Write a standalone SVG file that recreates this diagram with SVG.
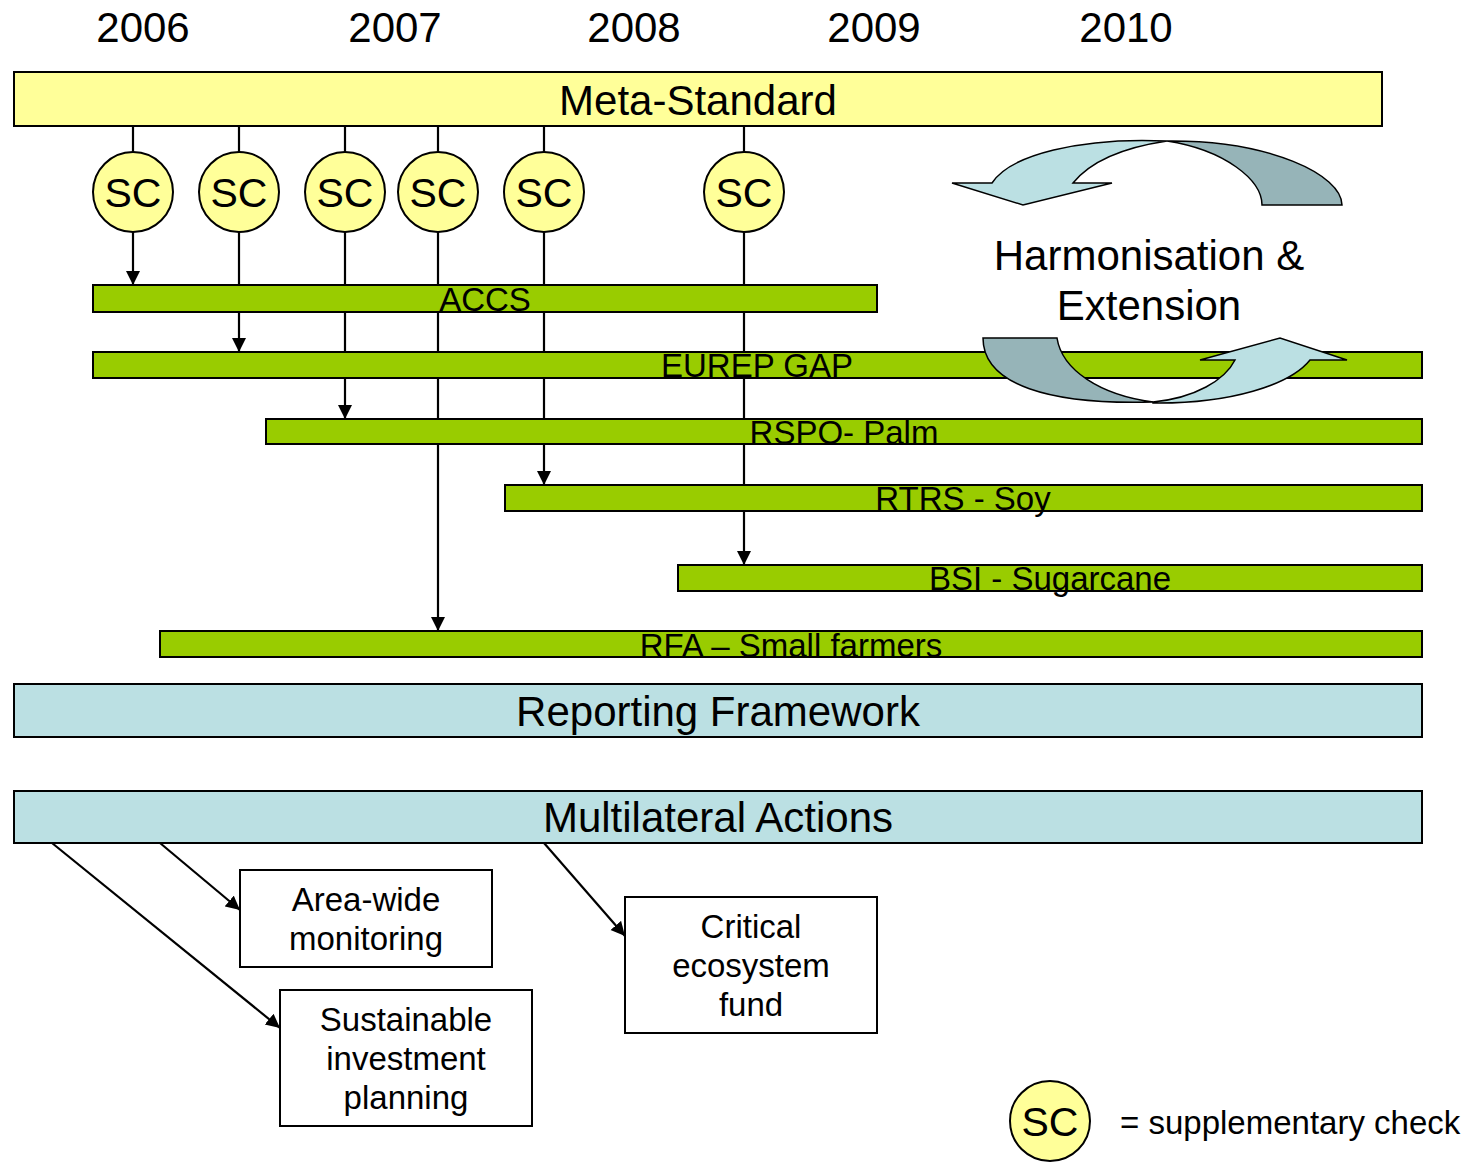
<svg xmlns="http://www.w3.org/2000/svg" width="1466" height="1163" viewBox="0 0 1466 1163">
<style>
.t{font-family:"Liberation Sans",Arial,sans-serif;fill:#000;text-anchor:middle}
.f42{font-size:42px}
.sc{font-size:41px}
.f32{font-size:33px}
.bar{fill:#99CC00;stroke:#000;stroke-width:2}
.blue{fill:#BBE0E3;stroke:#000;stroke-width:2}
.yel{fill:#FFFF99;stroke:#000;stroke-width:2}
.box{fill:#fff;stroke:#000;stroke-width:2}
.conn{stroke:#000;stroke-width:2.2;fill:none}
.light{fill:#BBE0E3;stroke:#000;stroke-width:1.5}
.dark{fill:#96B4B8;stroke:#000;stroke-width:1.5}
</style>
<defs>
<marker id="ah" markerUnits="userSpaceOnUse" markerWidth="15" markerHeight="15" refX="14" refY="7" orient="auto">
<path d="M0,0 L14,7 L0,14 Z" fill="#000"/>
</marker>
</defs>
<rect width="1466" height="1163" fill="#fff"/>

<g id="connectors" class="conn">
<line x1="133" y1="126" x2="133" y2="285" marker-end="url(#ah)"/>
<line x1="239" y1="126" x2="239" y2="352" marker-end="url(#ah)"/>
<line x1="345" y1="126" x2="345" y2="419" marker-end="url(#ah)"/>
<line x1="438" y1="126" x2="438" y2="631" marker-end="url(#ah)"/>
<line x1="544" y1="126" x2="544" y2="485" marker-end="url(#ah)"/>
<line x1="744" y1="126" x2="744" y2="565" marker-end="url(#ah)"/>
<line x1="52" y1="843" x2="280" y2="1028" marker-end="url(#ah)"/>
<line x1="160" y1="843" x2="240" y2="910" marker-end="url(#ah)"/>
<line x1="544" y1="843" x2="625" y2="936" marker-end="url(#ah)"/>
</g>

<g id="years" class="t f42">
<text x="143" y="42">2006</text>
<text x="395" y="42">2007</text>
<text x="634" y="42">2008</text>
<text x="874" y="42">2009</text>
<text x="1126" y="42">2010</text>
</g>

<g id="meta-standard">
<rect class="yel" x="14" y="72" width="1368" height="54"/>
<text class="t f42" x="698" y="115">Meta-Standard</text>
</g>

<g id="accs">
<rect class="bar" x="93" y="285" width="784" height="27"/>
<text class="t f32" x="485" y="311">ACCS</text>
</g>
<g id="eurep">
<rect class="bar" x="93" y="352" width="1329" height="26"/>
<text class="t f32" x="757" y="377">EUREP GAP</text>
</g>
<g id="rspo">
<rect class="bar" x="266" y="419" width="1156" height="25"/>
<text class="t f32" x="844" y="444">RSPO- Palm</text>
</g>
<g id="rtrs">
<rect class="bar" x="505" y="485" width="917" height="26"/>
<text class="t f32" x="963" y="510">RTRS - Soy</text>
</g>
<g id="bsi">
<rect class="bar" x="678" y="565" width="744" height="26"/>
<text class="t f32" x="1050" y="590">BSI - Sugarcane</text>
</g>
<g id="rfa">
<rect class="bar" x="160" y="631" width="1262" height="26"/>
<text class="t f32" x="791" y="657">RFA – Small farmers</text>
</g>

<g id="sc1"><circle class="yel" cx="133" cy="192" r="40"/><text class="t sc" x="133" y="207">SC</text></g>
<g id="sc2"><circle class="yel" cx="239" cy="192" r="40"/><text class="t sc" x="239" y="207">SC</text></g>
<g id="sc3"><circle class="yel" cx="345" cy="192" r="40"/><text class="t sc" x="345" y="207">SC</text></g>
<g id="sc4"><circle class="yel" cx="438" cy="192" r="40"/><text class="t sc" x="438" y="207">SC</text></g>
<g id="sc5"><circle class="yel" cx="544" cy="192" r="40"/><text class="t sc" x="544" y="207">SC</text></g>
<g id="sc6"><circle class="yel" cx="744" cy="192" r="40"/><text class="t sc" x="744" y="207">SC</text></g>

<g id="harmonisation">
<path class="dark" d="M1167,141 C1270,140 1342,175 1342,205 L1262,205 C1262,180 1225,150 1167,141 Z"/>
<path class="light" d="M1167,141 C1080,137 1010,155 992,183 L952,183 L1023,205 L1112,183 L1073,183 C1090,162 1120,148 1167,141 Z"/>
<text class="t f42" x="1149" y="270">Harmonisation &amp;</text>
<text class="t f42" x="1149" y="320">Extension</text>
<path class="dark" d="M983,338 L1057,338 C1062,370 1100,395 1153,402 C1050,405 983,385 983,338 Z"/>
<path class="light" d="M1153,403 C1230,404 1290,385 1310,360 L1347,360 L1280,338 L1200,360 L1235,360 C1225,380 1195,398 1153,402 Z"/>
</g>

<g id="reporting">
<rect class="blue" x="14" y="684" width="1408" height="53"/>
<text class="t f42" x="718" y="726">Reporting Framework</text>
</g>
<g id="multilateral">
<rect class="blue" x="14" y="791" width="1408" height="52"/>
<text class="t f42" x="718" y="832">Multilateral Actions</text>
</g>

<g id="area-wide">
<rect class="box" x="240" y="870" width="252" height="97"/>
<text class="t f32" x="366" y="911">Area-wide</text>
<text class="t f32" x="366" y="950">monitoring</text>
</g>
<g id="sustainable">
<rect class="box" x="280" y="990" width="252" height="136"/>
<text class="t f32" x="406" y="1031">Sustainable</text>
<text class="t f32" x="406" y="1070">investment</text>
<text class="t f32" x="406" y="1109">planning</text>
</g>
<g id="critical">
<rect class="box" x="625" y="897" width="252" height="136"/>
<text class="t f32" x="751" y="938">Critical</text>
<text class="t f32" x="751" y="977">ecosystem</text>
<text class="t f32" x="751" y="1016">fund</text>
</g>

<g id="legend">
<circle class="yel" cx="1050" cy="1121" r="40"/>
<text class="t sc" x="1050" y="1136">SC</text>
<text class="f32" x="1120" y="1134" style="font-family:'Liberation Sans',Arial,sans-serif">= supplementary check</text>
</g>
</svg>
